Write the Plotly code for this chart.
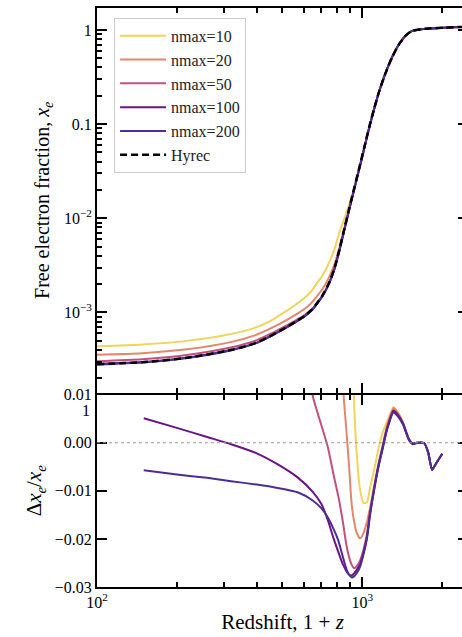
import plotly.graph_objects as go
from plotly.subplots import make_subplots

# ---------------- data ----------------
LABELS = ["nmax=10", "nmax=20", "nmax=50", "nmax=100", "nmax=200"]
COLORS = ["#f0d45c", "#e2886a", "#c0507e", "#6a1486", "#4a2e94"]

# top panel: redshift grid (1+z) and free electron fraction x_e
Z_TOP = [100, 148, 218, 322, 393, 447, 500, 555, 605, 643, 671, 707, 751, 785, 820, 856,
         894, 933, 974, 1017, 1062, 1110, 1159, 1220, 1297, 1378, 1464, 1542, 1638, 1786,
         2034, 2356, 2500]
XE_HYREC = [2.82e-4, 2.96e-4, 3.30e-4, 4.01e-4, 4.70e-4, 5.57e-4, 6.61e-4, 7.84e-4, 9.18e-4,
            1.063e-3, 1.230e-3, 1.513e-3, 2.102e-3, 2.957e-3, 4.70e-3, 7.84e-3, 1.307e-2,
            2.128e-2, 3.464e-2, 5.71e-2, 9.41e-2, 0.1495, 0.2262, 0.3423, 0.518, 0.711,
            0.885, 0.976, 1.012, 1.037, 1.055, 1.076, 1.084]
XE_N10 = [4.37e-4, 4.56e-4, 4.99e-4, 5.92e-4, 6.86e-4, 8.03e-4, 9.76e-4, 1.186e-3, 1.424e-3,
          1.690e-3, 2.002e-3, 2.463e-3, 3.42e-3, 4.70e-3, 7.11e-3, 1.000e-2, 1.425e-2,
          2.141e-2, 3.44e-2, 5.64e-2, 9.33e-2, 0.1488, 0.2260, 0.3437, 0.5218, 0.7146,
          0.8863, 0.976, 1.012, 1.037, 1.055, 1.076, 1.084]
XE_N20 = [3.55e-4, 3.69e-4, 4.06e-4, 4.87e-4, 5.71e-4, 6.68e-4, 7.84e-4, 9.30e-4, 1.089e-3,
          1.261e-3, 1.459e-3, 1.773e-3, 2.405e-3, 3.259e-3, 4.935e-3, 7.92e-3, 1.301e-2,
          2.093e-2, 3.396e-2, 5.60e-2, 9.28e-2, 0.1484, 0.2259, 0.3437, 0.5217, 0.7146,
          0.885, 0.976, 1.012, 1.037, 1.055, 1.076, 1.084]
XE_N50 = [3.03e-4, 3.18e-4, 3.53e-4, 4.27e-4, 4.98e-4, 5.88e-4, 6.91e-4, 8.10e-4, 9.36e-4,
          1.075e-3, 1.236e-3, 1.515e-3, 2.095e-3, 2.936e-3, 4.644e-3, 7.70e-3, 1.276e-2,
          2.073e-2, 3.379e-2, 5.59e-2, 9.28e-2, 0.1483, 0.2259, 0.3435, 0.5215, 0.7145,
          0.885, 0.976, 1.012, 1.037, 1.055, 1.076, 1.084]
XE_N100 = [2.84e-4, 2.975e-4, 3.307e-4, 4.009e-4, 4.69e-4, 5.55e-4, 6.57e-4, 7.78e-4, 9.09e-4,
           1.050e-3, 1.214e-3, 1.490e-3, 2.062e-3, 2.893e-3, 4.587e-3, 7.64e-3, 1.271e-2,
           2.069e-2, 3.376e-2, 5.58e-2, 9.27e-2, 0.1482, 0.2259, 0.3434, 0.5214, 0.7144,
           0.885, 0.976, 1.012, 1.037, 1.055, 1.076, 1.084]
XE_N200 = [2.80e-4, 2.943e-4, 3.278e-4, 3.978e-4, 4.66e-4, 5.52e-4, 6.55e-4, 7.76e-4, 9.07e-4,
           1.050e-3, 1.214e-3, 1.491e-3, 2.065e-3, 2.896e-3, 4.590e-3, 7.64e-3, 1.271e-2,
           2.068e-2, 3.374e-2, 5.58e-2, 9.27e-2, 0.1481, 0.2258, 0.3433, 0.5213, 0.7144,
           0.885, 0.976, 1.012, 1.037, 1.055, 1.076, 1.084]

# bottom panel: relative difference to Hyrec
Z_RES = [150, 200, 260, 320, 400, 480, 570, 650, 700, 740, 780, 810, 840, 850, 870, 890,
         910, 930, 950, 980, 1010, 1040, 1070, 1110, 1150, 1190, 1240, 1310, 1360, 1420,
         1500, 1550, 1600, 1710, 1770, 1830, 1900, 2000]
RES_N10 = [0.57, 0.56, 0.55, 0.52, 0.50, 0.48, 0.50, 0.55, 0.60, 0.60, 0.55, 0.47, 0.35,
           0.30, 0.20, 0.11, 0.045, 0.009, -0.0015, -0.0097, -0.0125, -0.0124, -0.0092,
           -0.0054, -0.0012, 0.0020, 0.0045, 0.0074, 0.0064, 0.0044, 0.0008, -0.0002,
           0.0000, -0.0001, -0.0020, -0.0056, -0.0042, -0.0023]
RES_N20 = [0.26, 0.24, 0.23, 0.22, 0.20, 0.18, 0.18, 0.19, 0.19, 0.18, 0.13, 0.08, 0.018,
           0.0098, 0.0027, -0.0045, -0.0124, -0.0163, -0.0186, -0.0199, -0.0188, -0.0165,
           -0.0134, -0.0088, -0.0045, -0.0008, 0.0036, 0.0072, 0.0062, 0.0043, 0.0007,
           -0.0002, 0.0000, -0.0001, -0.0020, -0.0056, -0.0042, -0.0023]
RES_N50 = [0.08, 0.078, 0.075, 0.07, 0.065, 0.05, 0.028, 0.0097, 0.0037, -0.0008, -0.0068,
           -0.0109, -0.0157, -0.0175, -0.0212, -0.0237, -0.0253, -0.0261, -0.0257, -0.0245,
           -0.0222, -0.0190, -0.0142, -0.0090, -0.0045, -0.0010, 0.0033, 0.0068, 0.0059,
           0.0041, 0.0006, -0.0002, 0.0000, -0.0001, -0.0020, -0.0056, -0.0042, -0.0023]
RES_N100 = [0.0051, 0.0031, 0.0012, -0.0003, -0.0022, -0.0045, -0.0072, -0.0102, -0.0127,
            -0.0160, -0.0200, -0.0226, -0.0250, -0.0256, -0.0267, -0.0274, -0.0276, -0.0272,
            -0.0265, -0.0253, -0.0228, -0.0197, -0.0146, -0.0093, -0.0048, -0.0012, 0.0030,
            0.0066, 0.0058, 0.0041, 0.0006, -0.0002, 0.0000, -0.0001, -0.0020, -0.0056,
            -0.0042, -0.0023]
RES_N200 = [-0.0057, -0.0066, -0.0073, -0.0080, -0.0087, -0.0094, -0.0103, -0.0120, -0.0136,
            -0.0155, -0.0180, -0.0202, -0.0233, -0.0243, -0.0262, -0.0274, -0.0280, -0.0278,
            -0.0272, -0.0258, -0.0232, -0.0200, -0.0148, -0.0095, -0.0050, -0.0015, 0.0028,
            0.0063, 0.0055, 0.0039, 0.0005, -0.0003, -0.0001, -0.0001, -0.0020, -0.0056,
            -0.0042, -0.0023]

XTICK_VALS = [100, 1000]
XTICK_TEXT = ["10<sup>2</sup>", "10<sup>3</sup>"]
YTOP_VALS = [1e-3, 1e-2, 0.1, 1]
YTOP_TEXT = ["10<sup>\u22123</sup>", "10<sup>\u22122</sup>", "0.1", "1"]
YBOT_VALS = [-0.03, -0.02, -0.01, 0.0, 0.01]

TOP_SERIES = [XE_N10, XE_N20, XE_N50, XE_N100, XE_N200]
RES_SERIES = [RES_N10, RES_N20, RES_N50, RES_N100, RES_N200]

# ---------------- figure ----------------
FONT = "Liberation Serif"
fig = make_subplots(rows=2, cols=1, shared_xaxes=True, vertical_spacing=0)

for lab, col, ys in zip(LABELS, COLORS, TOP_SERIES):
    fig.add_trace(go.Scatter(x=Z_TOP, y=ys, mode="lines", name=lab,
                             line=dict(color=col, width=2, shape="spline", smoothing=0.6)),
                  row=1, col=1)
fig.add_trace(go.Scatter(x=Z_TOP, y=XE_HYREC, mode="lines", name="Hyrec",
                         line=dict(color="black", width=2.5, dash="7px,4px",
                                   shape="spline", smoothing=0.6)),
              row=1, col=1)

for lab, col, ys in zip(LABELS, COLORS, RES_SERIES):
    fig.add_trace(go.Scatter(x=Z_RES, y=ys, mode="lines", name=lab, showlegend=False,
                             line=dict(color=col, width=2, shape="spline", smoothing=0.6)),
                  row=2, col=1)

fig.add_hline(y=0, line=dict(color="#999999", width=1, dash="dot"), row=2, col=1)

axis_common = dict(showline=True, linecolor="black", linewidth=2, mirror="ticks",
                   ticks="inside", ticklen=10, tickwidth=2, tickcolor="black",
                   showgrid=False, zeroline=False,
                   tickfont=dict(family=FONT, size=16, color="black"))
x_minor = dict(ticks="inside", ticklen=5, tickwidth=1.5, tickcolor="black", showgrid=False,
               tickmode="array", tickvals=[200, 300, 400, 500, 600, 700, 800, 900, 2000])
y_minor_vals = [m * 10.0 ** e for e in (-4, -3, -2, -1) for m in range(2, 10)]

fig.update_xaxes(type="log", range=[2, 3.398], tickmode="array", tickvals=XTICK_VALS,
                 ticktext=XTICK_TEXT, minor=x_minor, **axis_common)
fig.update_xaxes(showticklabels=False, row=1, col=1)
fig.update_xaxes(title=dict(text="Redshift, 1 + <i>z</i>", standoff=4,
                            font=dict(family=FONT, size=21, color="black")), row=2, col=1)

fig.update_yaxes(type="log", range=[-3.852, 0.233], tickmode="array", tickvals=YTOP_VALS,
                 ticktext=YTOP_TEXT,
                 minor=dict(ticks="inside", ticklen=5, tickwidth=1.5, tickcolor="black",
                            showgrid=False, tickmode="array", tickvals=y_minor_vals),
                 title=dict(text="Free electron fraction, <i>x<sub>e</sub></i>", standoff=9,
                            font=dict(family=FONT, size=20, color="black")),
                 domain=[0.3356, 1.0], **axis_common, row=1, col=1)
fig.update_yaxes(range=[-0.03, 0.01], tickmode="array", tickvals=YBOT_VALS, tickformat=".2f",
                 title=dict(text="\u0394<i>x<sub>e</sub></i>/<i>x<sub>e</sub></i>", standoff=7,
                            font=dict(family=FONT, size=21, color="black")),
                 domain=[0.0, 0.3322], **axis_common, row=2, col=1)

# partially hidden tick label of the upper panel, peeking out at the left
fig.add_annotation(text="1", xref="paper", yref="paper", x=-0.0134, y=0.305,
                   xanchor="right", yanchor="middle", showarrow=False,
                   font=dict(family=FONT, size=16, color="black"))

fig.update_layout(
    width=470, height=637,
    margin=dict(l=97, r=0, t=6, b=50),
    paper_bgcolor="white", plot_bgcolor="white",
    font=dict(family=FONT, size=16, color="black"),
    legend=dict(x=0.046, y=0.983, xanchor="left", yanchor="top",
                bgcolor="rgba(255,255,255,0.85)", bordercolor="#cccccc", borderwidth=1,
                font=dict(family=FONT, size=16, color="#222222"), itemwidth=46),
    showlegend=True,
)

fig.write_html("out.html",
               post_script="document.documentElement.style.overflow='hidden';"
                           "document.body.style.overflow='hidden';")
